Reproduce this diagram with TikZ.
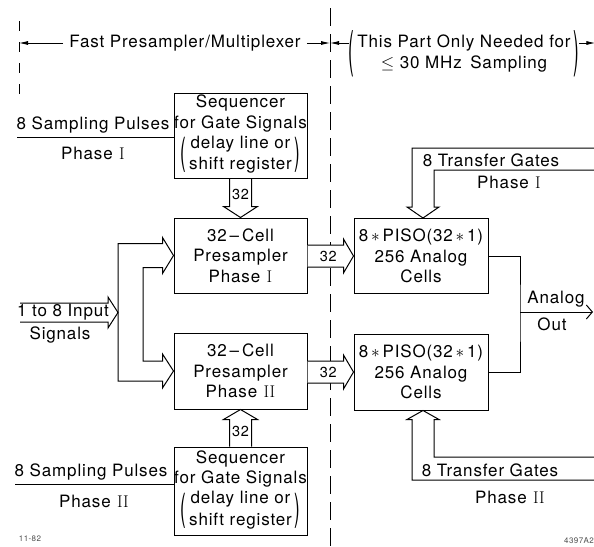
\documentclass[tikz,border=0pt]{standalone}
\usepackage{graphicx}
\usepackage{fontspec}
\setsansfont{TeX Gyre Heros}[LetterSpace=5]
\renewcommand{\familydefault}{\sfdefault}
\usetikzlibrary{calc,arrows.meta,backgrounds}

% Klammer ueber zwei Zeilen
\newcommand{\bigparen}[2][2.2]{$\vcenter{\hbox{\scalebox{1}[#1]{(}}}\,\vcenter{\hbox{\begin{tabular}{@{}c@{}}#2\end{tabular}}}\,\vcenter{\hbox{\scalebox{1}[#1]{)}}}$}

\tikzset{
  blk/.style={draw, line width=1pt, minimum width=133pt, inner sep=0pt, align=center, font=\fontsize{17}{20.5}\selectfont},
  lbl/.style={inner sep=0pt, align=center, font=\fontsize{17}{20.5}\selectfont},
  num/.style={inner sep=1pt, font=\fontsize{14.5}{16}\selectfont},
  numw/.style={num, fill=white},
  fat/.style={draw, line width=1pt, line join=miter},
  wire/.style={line width=1pt},
  sep/.style={line width=0.8pt, dash pattern=on 18pt off 8pt},
  hdr/.style={line width=0.8pt, -{Latex[length=9pt,width=4pt]}},
  tiny/.style={inner sep=0pt, text=black!70, font=\fontsize{8}{9}\selectfont},
}

\begin{document}
\begin{tikzpicture}[x=1pt,y=-1pt]
\useasboundingbox (0,0) rectangle (594,546);

% Bloecke
\node[blk, minimum height=85pt] (seqA) at (240.5,135.5) {Sequencer\\for Gate Signals\\[1pt]\bigparen{delay line or\\[1pt]shift register}};
\node[blk, minimum height=75pt] (preA) at (240.5,255.5) {32\,\textendash\,Cell\\Presampler\\Phase \textrm{I}};
\node[blk, minimum height=76pt] (preB) at (240.5,371) {32\,\textendash\,Cell\\Presampler\\Phase \textrm{II}};
\node[blk, minimum height=88pt] (seqB) at (240.5,491) {Sequencer\\for Gate Signals\\[1pt]\bigparen{delay line or\\[1pt]shift register}};
\node[blk, minimum width=134pt, minimum height=75pt] (pisoA) at (421,256) {8\,$\ast$\,PISO(32\,$\ast$\,1)\\256 Analog\\Cells};
\node[blk, minimum width=134pt, minimum height=76pt] (pisoB) at (421,372) {8\,$\ast$\,PISO(32\,$\ast$\,1)\\256 Analog\\Cells};

% Trennlinien
\coordinate (divT) at (330,8);
\coordinate (divB) at (330,546);
\coordinate (lftT) at (19,21);
\coordinate (lftB) at (19,95);
\begin{scope}[on background layer]
\draw[sep] (divT) -- (divB);
\draw[sep, dash pattern=on 10pt off 11pt] (lftT) -- (lftB);
\end{scope}

% Kopfzeile
\node[lbl] (fast) at (185,43) {Fast Presampler/Multiplexer};
\draw[hdr] (fast.west) ++(-6,0) -- (fast.west -| lftT);
\draw[hdr] (fast.east) ++(6,0) -- (fast.east -| divT);
\node[lbl] (part) at (464,54) {\bigparen[2.9]{This Part Only Needed for\\$\leq$ 30 MHz\enspace Sampling}};
\draw[hdr] (part.west |- fast) -- (fast -| divT);
\draw[hdr] (part.east |- fast) -- ++(16,0);

% Abtastpulse
\node[lbl] (spA) at (93,125) {8 Sampling Pulses};
\node[lbl] (phA) at (93,153) {Phase \textrm{I}};
\coordinate (spAin) at (17,137.5);
\draw[wire] (spAin) -- (spAin -| seqA.west);
\node[lbl] (spB) at (91,472) {8 Sampling Pulses};
\node[lbl] (phB) at (94,501) {Phase \textrm{II}};
\coordinate (spBin) at (15,484);
\draw[wire] (spBin) -- (spBin -| seqB.west);

% 32er Pfeile
\draw[fat] ($(seqA.south)+(-11,0)$) -- ($(preA.north)+(-11,-11)$) -- ++(-6,0) -- (preA.north) -- ++(17,-11) -- ++(-6,0) -- ($(seqA.south)+(11,0)$);
\node[num] (nA) at ($(seqA.south)!0.4!(preA.north)$) {32};
\draw[fat] ($(seqB.north)+(-11,0)$) -- ($(preB.south)+(-11,10)$) -- ++(-6,0) -- (preB.south) -- ++(17,10) -- ++(-6,0) -- ($(seqB.north)+(11,0)$);
\node[num] (nB) at ($(seqB.north)!0.4!(preB.south)$) {32};
\draw[fat, fill=white] ($(pisoA.west -| preA.east)+(0,-11)$) -- ($(pisoA.west)+(-10,-11)$) -- ++(0,-6) -- (pisoA.west) -- ++(-10,17) -- ++(0,-6) -- ($(pisoA.west -| preA.east)+(0,11)$);
\node[numw] (nC) at ($(pisoA.west -| preA.east)!0.45!(pisoA.west)$) {32};
\draw[fat, fill=white] ($(pisoB.west -| preB.east)+(0,-11)$) -- ($(pisoB.west)+(-10,-11)$) -- ++(0,-6) -- (pisoB.west) -- ++(-10,17) -- ++(0,-6) -- ($(pisoB.west -| preB.east)+(0,11)$);
\node[numw] (nD) at ($(pisoB.west -| preB.east)!0.45!(pisoB.west)$) {32};

% Eingang und Verteiler
\coordinate (busO) at (118,312.5);
\coordinate (busI) at (143,312.5);
\coordinate (inL) at (20,312.5);
\draw[fat] ($(busO |- preB.west)+(0,10)$) -- ($(busO |- preA.west)+(0,-12)$) -- ($(preA.west)+(-11,-12)$) -- ++(0,-6) -- (preA.west) -- ++(-11,18) -- ++(0,-6) -- ($(busI |- preA.west)+(0,12)$) -- ($(busI |- preB.west)+(0,-10)$) -- ($(preB.west)+(-11,-10)$) -- ++(0,-7) -- (preB.west) -- ++(-11,17) -- ++(0,-7) -- cycle;
\draw[fat] ($(inL)+(0,-9.5)$) -- ($(busO)+(-10,-9.5)$) -- ++(0,-6) -- (busO) -- ++(-10,15.5) -- ++(0,-6) -- ($(inL)+(0,9.5)$);
\node[lbl] (inTxt) at (63,312.5) {1 to 8 Input};
\node[lbl] (inSig) at (60,335) {Signals};

% Transfer Gates
\coordinate (tgA) at ($(pisoA.north)+(2,0)$);
\coordinate (tgAo) at (594,148);
\coordinate (tgAi) at (594,170);
\draw[fat] (tgAo) -- ($(tgAo -| tgA)+(-11,0)$) -- ($(tgA)+(-11,-11)$) -- ++(-5,0) -- (tgA) -- ++(16,-11) -- ++(-5,0) -- ($(tgAi -| tgA)+(11,0)$) -- (tgAi);
\node[lbl] (tgAtxt) at (491,160) {8 Transfer Gates};
\node[lbl] (tgAph) at (509,182) {Phase \textrm{I}};
\coordinate (tgB) at ($(pisoB.south)+(2,0)$);
\coordinate (tgBi) at (594,457);
\coordinate (tgBo) at (594,480);
\draw[fat] (tgBo) -- ($(tgBo -| tgB)+(-11,0)$) -- ($(tgB)+(-11,9)$) -- ++(-5,0) -- (tgB) -- ++(16,9) -- ++(-5,0) -- ($(tgBi -| tgB)+(11,0)$) -- (tgBi);
\node[lbl] (tgBtxt) at (490,470) {8 Transfer Gates};
\node[lbl] (tgBph) at (510,497) {Phase \textrm{II}};

% Ausgang
\coordinate (outJ) at (520,312);
\coordinate (outE) at (593,312);
\draw[wire] (pisoA.east) -| (outJ) |- (pisoB.east);
\draw[wire, -{Straight Barb[length=6pt,width=14pt]}] (outJ) -- (outE);
\node[lbl] (anTxt) at (556,299) {Analog};
\node[lbl] (outTxt) at (552,324) {Out};

% Fusszeile
\node[tiny] (date) at (30,539) {11-82};
\node[tiny, anchor=east] (fig) at (594,541) {4397A2};
\end{tikzpicture}
\end{document}
